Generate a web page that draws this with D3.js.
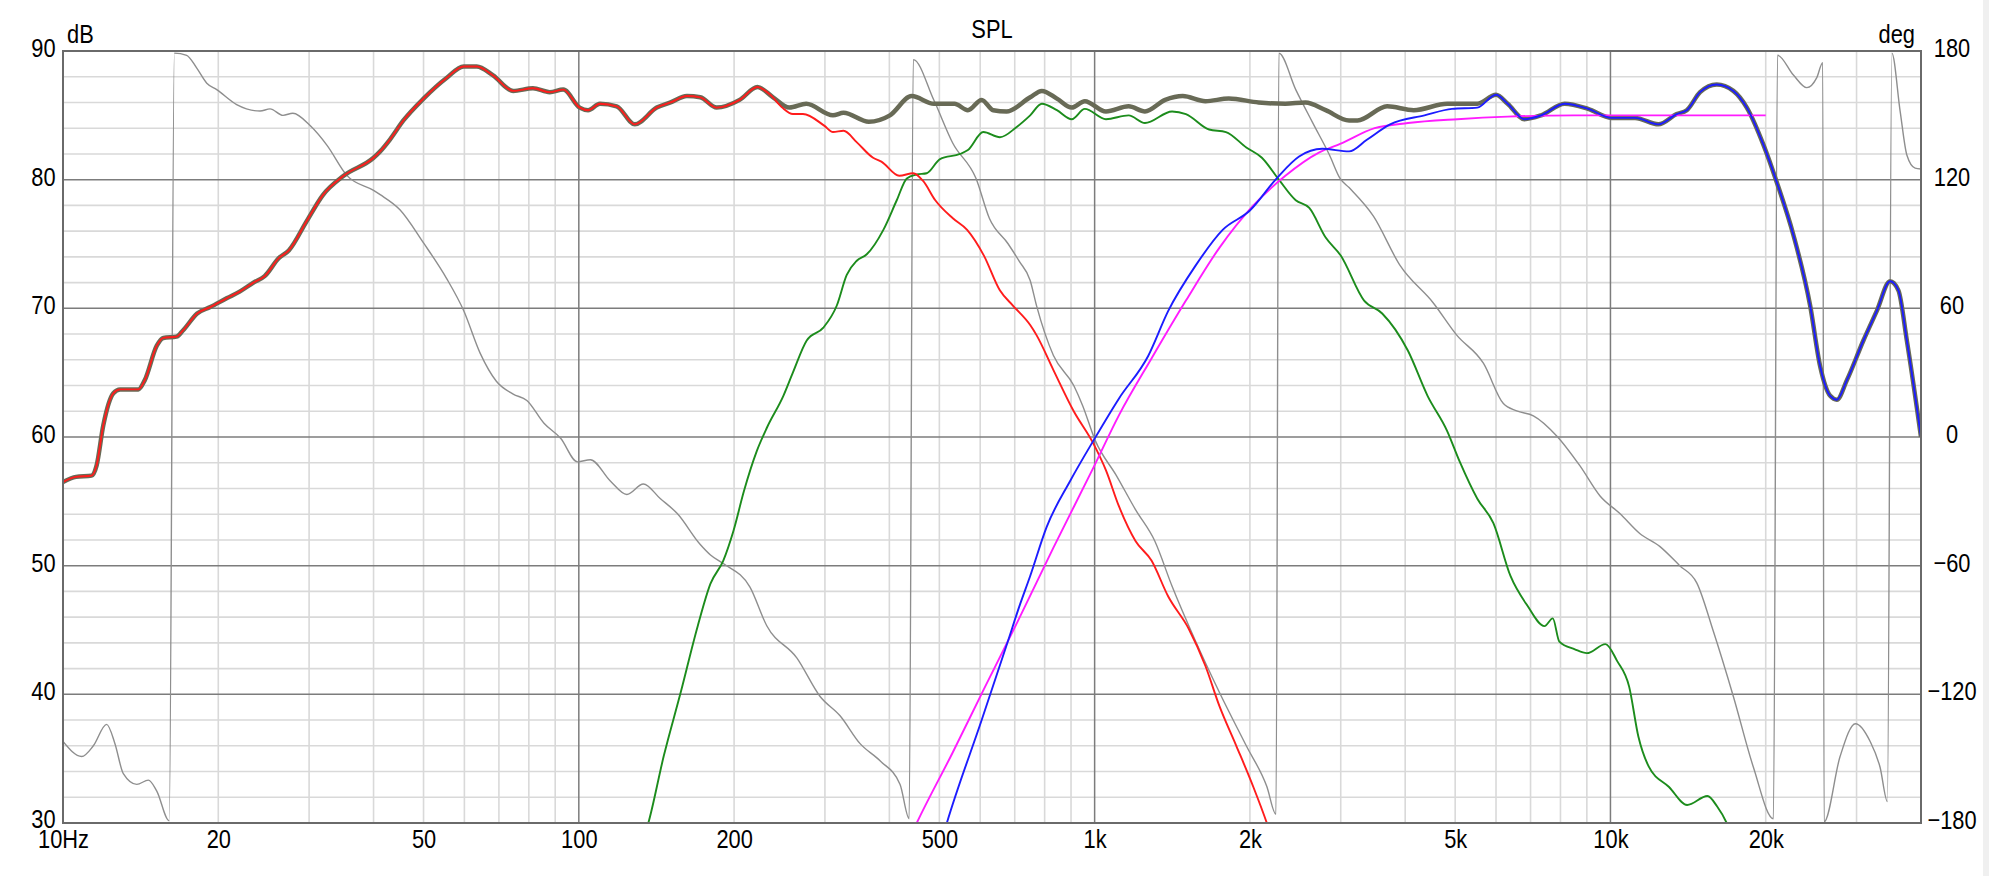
<!DOCTYPE html>
<html>
<head>
<meta charset="utf-8">
<script src="https://cdn.jsdelivr.net/npm/d3@7/dist/d3.min.js"></script>
<style>
body { margin: 0; background: #fff; }
svg text { font-family: "Liberation Sans", Arial, sans-serif; font-size: 26px; fill: #000; }
</style>
</head>
<body>
<script>
// axis ticks
var xTickValues = [10, 20, 50, 100, 200, 500, 1000, 2000, 5000, 10000, 20000];
var xTickLabels = ["10Hz", "20", "50", "100", "200", "500", "1k", "2k", "5k", "10k", "20k"];
var dbTicks = [30, 40, 50, 60, 70, 80, 90];
var degTicks = [-180, -120, -60, 0, 60, 120, 180];

// [Hz, dB]
var sumSpl = [
    [10, 56.5], [10.6, 56.9], [11.36, 57.0], [11.62, 57.8], [11.97, 60.9], [12.52, 63.4], [12.9, 63.7],
    [14.0, 63.7], [14.4, 64.4], [15.2, 67.1], [15.65, 67.7], [16.6, 67.8], [17.1, 68.3], [18.2, 69.6],
    [19.3, 70.1], [20.8, 70.8], [22.0, 71.3], [23.4, 72.0], [24.6, 72.5], [26.2, 73.9], [27.4, 74.5],
    [29.7, 76.8], [31.9, 78.8], [35.0, 80.3], [40.0, 81.7], [41.2, 82.2], [43.0, 83.1], [45.7, 84.6],
    [50.0, 86.3], [55.4, 87.9], [59.8, 88.8], [63.4, 88.8], [68.2, 88.1], [74.6, 86.9], [81.5, 87.1],
    [87.8, 86.8], [93.3, 87.0], [100.4, 85.6], [104.2, 85.4], [109.9, 85.9], [118.4, 85.7], [128.4, 84.3],
    [141.6, 85.6], [150.6, 86.0], [162, 86.5], [172, 86.4], [185, 85.6], [205, 86.2], [222, 87.2],
    [238, 86.4], [256, 85.6], [276, 85.9], [311, 85.0], [326, 85.2], [365, 84.5], [401, 85.0], [442, 86.5],
    [488, 85.9], [535, 85.9], [568, 85.4], [604, 86.2], [636, 85.4], [675, 85.3], [750, 86.4], [790, 86.9],
    [845, 86.3], [903, 85.6], [957, 86.1], [1052, 85.3], [1164, 85.7], [1252, 85.3], [1370, 86.2],
    [1482, 86.5], [1640, 86.1], [1820, 86.3], [2079, 86.0], [2343, 85.9], [2563, 86.0], [2805, 85.4],
    [3114, 84.6], [3233, 84.6], [3690, 85.7], [4157, 85.4], [4825, 85.9], [5520, 85.9], [6000, 86.6],
    [6320, 85.9], [6810, 84.7], [7340, 85.0], [8150, 85.9], [9050, 85.5], [10050, 84.8], [11160, 84.8],
    [12390, 84.3], [13440, 85.1], [14060, 85.4], [14920, 86.8], [16070, 87.4], [17310, 86.9], [18380, 85.6],
    [19800, 82.7], [21010, 79.8], [22630, 75.7], [24390, 70.2], [25500, 65.5], [26670, 63.2], [27480, 62.9],
    [28720, 64.4], [30930, 67.5], [32840, 69.8], [34840, 72.1], [36160, 71.4], [37550, 67.5], [39710, 60.9],
    [40000, 60.0]
];

var wooferSpl = [
    [10, 56.5], [10.6, 56.9], [11.36, 57.0], [11.62, 57.8], [11.97, 60.9], [12.52, 63.4], [12.9, 63.7],
    [14.0, 63.7], [14.4, 64.4], [15.2, 67.1], [15.65, 67.7], [16.6, 67.8], [17.1, 68.3], [18.2, 69.6],
    [19.3, 70.1], [20.8, 70.8], [22.0, 71.3], [23.4, 72.0], [24.6, 72.5], [26.2, 73.9], [27.4, 74.5],
    [29.7, 76.8], [31.9, 78.8], [35.0, 80.3], [40.0, 81.7], [41.2, 82.2], [43.0, 83.1], [45.7, 84.6],
    [50.0, 86.3], [55.4, 87.9], [59.8, 88.8], [63.4, 88.8], [68.2, 88.1], [74.6, 86.9], [81.5, 87.1],
    [87.8, 86.8], [93.3, 87.0], [100.4, 85.6], [104.2, 85.4], [109.9, 85.9], [118.4, 85.7], [128.4, 84.3],
    [141.6, 85.6], [150.6, 86.0], [162, 86.5], [172, 86.4], [185, 85.6], [205, 86.2], [222, 87.2],
    [235, 86.6], [248, 85.6], [260, 85.1], [272, 85.1], [299, 84.2], [311, 83.7], [326, 83.8], [346, 82.9],
    [372, 81.7], [386, 81.4], [418, 80.3], [445, 80.5], [465, 79.9], [491, 78.4], [531, 77.0], [566, 76.1],
    [610, 74.1], [655, 71.4], [695, 70.2], [750, 68.7], [772, 67.9], [832, 65.2], [911, 62.0], [994, 59.5],
    [1052, 57.4], [1115, 54.6], [1201, 51.9], [1289, 50.4], [1389, 47.6], [1522, 45.1], [1640, 42.2],
    [1745, 39.1], [1882, 36.0], [2031, 32.8], [2157, 30.0], [2300, 26.5]
];

var midSpl = [
    [130, 27.5], [136.4, 30.0], [146.1, 35.2], [157.7, 40.2], [170, 45.3], [180, 48.6], [190.6, 50.4],
    [199.4, 52.7], [209, 55.8], [221.3, 58.9], [231.4, 60.7], [249.2, 63.2], [260, 65.0], [276.6, 67.5],
    [297.9, 68.5], [316.2, 70.2], [330.7, 72.6], [345.8, 73.7], [361.6, 74.2], [389.4, 76.1], [413.4, 78.4],
    [432.4, 80.1], [452, 80.4], [472.6, 80.5], [501.5, 81.6], [548.4, 82.0], [568, 82.3], [608.4, 83.7],
    [655.3, 83.3], [706.3, 84.1], [750, 85.0], [790, 85.9], [845, 85.4], [903, 84.7], [957, 85.5],
    [1052, 84.7], [1164, 85.0], [1252, 84.4], [1413, 85.3], [1503, 85.1], [1667, 83.9], [1797, 83.7],
    [1968, 82.5], [2110, 81.7], [2276, 80.0], [2454, 78.4], [2607, 77.8], [2805, 75.5], [3000, 74.1],
    [3330, 70.6], [3610, 69.6], [4050, 66.7], [4420, 63.2], [4820, 60.5], [5100, 58.1], [5520, 55.2],
    [5930, 53.3], [6400, 49.2], [6900, 46.9], [7450, 45.3], [7730, 45.9], [7960, 44.1], [8530, 43.5],
    [9000, 43.2], [9780, 43.9], [10300, 42.6], [10870, 40.6], [11330, 36.7], [11860, 34.4], [12990, 32.8],
    [14080, 31.4], [15420, 32.1], [16090, 31.3], [16800, 30.0], [17500, 28.0]
];

var tweeterSpl = [
    [500, 28.0], [517, 30.0], [604, 38.0], [680, 44.2], [714, 46.8], [750, 49.2], [807, 53.0], [897, 56.6],
    [994, 59.7], [1115, 63.0], [1270, 66.3], [1389, 69.8], [1568, 73.3], [1771, 76.1], [2000, 77.6],
    [2254, 80.1], [2491, 81.8], [2762, 82.4], [3114, 82.2], [3371, 83.1], [3740, 84.3], [4360, 85.0],
    [4930, 85.5], [5520, 85.6], [6000, 86.6],
    [6320, 85.9], [6810, 84.7], [7340, 85.0], [8150, 85.9], [9050, 85.5], [10050, 84.8], [11160, 84.8],
    [12390, 84.3], [13440, 85.1], [14060, 85.4], [14920, 86.8], [16070, 87.4], [17310, 86.9], [18380, 85.6],
    [19800, 82.7], [21010, 79.8], [22630, 75.7], [24390, 70.2], [25500, 65.5], [26670, 63.2], [27480, 62.9],
    [28720, 64.4], [30930, 67.5], [32840, 69.8], [34840, 72.1], [36160, 71.4], [37550, 67.5], [39710, 60.9],
    [40000, 60.0]
];

var targetSpl = [
    [440, 29.0], [452, 30.0], [531, 35.5], [610, 40.4], [714, 45.9], [832, 51.4], [994, 57.6],
    [1115, 61.7], [1289, 66.1], [1503, 70.6], [1745, 74.7], [2031, 78.0], [2343, 80.3], [2721, 82.1],
    [3000, 82.8], [3490, 84.0], [4050, 84.4], [5050, 84.7], [6320, 84.9], [8500, 85.0], [20000, 85.0]
];

// [Hz, deg] phase of the sum, wrapped
var sumPhase = [
    [10.0, -142], [10.87, -149], [11.45, -144], [12.15, -134], [12.61, -143], [13.09, -157], [13.9, -162],
    [14.64, -160], [15.19, -165], [16.07, -179], [16.44, 179], [17.37, 178], [18.17, 172], [19.0, 165],
    [19.86, 162], [21.71, 155], [24.1, 152], [25.2, 153], [26.7, 150], [27.9, 151], [30.2, 145], [32.5, 136],
    [35.5, 122], [40.0, 115], [41.2, 113], [45.0, 106], [50.0, 90.5], [55.4, 74], [59.8, 59], [64.4, 39],
    [69.2, 26], [74.6, 20], [79.3, 17], [85.6, 6.4], [92.2, -0.6], [99.4, -11.6], [105.3, -10.6],
    [115.1, -20.5], [123.9, -26.8], [133.4, -21.9], [143.8, -28.7], [155.2, -35.7], [171.8, -50], [180, -55],
    [190.6, -59], [214.7, -70], [231.4, -88], [264.6, -103], [293.6, -121], [321, -130], [351, -143],
    [383.7, -151], [419.6, -162], [437, -178], [445, 176], [488, 157], [531, 137], [589, 120.5], [625, 102],
    [680, 90], [714, 82], [750, 73], [772, 61], [832, 38], [911, 24], [948, 14.6], [1003, -1.7],
    [1102, -18], [1201, -34], [1308, -48.5], [1413, -69.6], [1568, -95], [1745, -119], [1968, -144],
    [2157, -163], [2247, -176], [2276, 179], [2454, 162], [2646, 146.6], [2853, 131.5], [2991, 120.6],
    [3114, 116.3], [3471, 103], [3909, 80], [4535, 62.5], [5035, 47.5], [5671, 34.4], [6200, 15.6],
    [6581, 12.2], [7089, 9.9], [7868, 0.5], [8730, -13.5], [9546, -27.5], [10430, -35.7], [11397, -45],
    [12460, -51], [13624, -60], [14700, -68], [15830, -90.6], [17310, -121], [18930, -154], [20700, -178],
    [21080, 178], [22630, 168.8], [24030, 162.9], [25120, 167.6], [25800, 174.6], [25950, -179.5],
    [27870, -149], [29850, -133.7], [31880, -142], [33320, -154], [34430, -170], [35120, 179], [36440, 152],
    [37550, 131.5], [38960, 125.4], [40000, 125]
];

var width = 1989, height = 876;
var margin = {top: 51, right: 68, bottom: 53, left: 63};

var svg = d3.select("body").append("svg").attr("width", width).attr("height", height);
svg.append("rect").attr("width", width).attr("height", height).attr("fill", "#fff");
svg.append("rect").attr("x", 1983).attr("y", 0).attr("width", 6).attr("height", height).attr("fill", "#f0f0f0");

var x = d3.scaleLog().domain([10, 40000]).range([margin.left, width - margin.right]);
var y = d3.scaleLinear().domain([30, 90]).range([height - margin.bottom, margin.top]);
var yDeg = d3.scaleLinear().domain([-180, 180]).range([height - margin.bottom, margin.top]);

var x0 = x.range()[0], x1 = x.range()[1], y0 = y.range()[1], y1 = y.range()[0];

//Grid
var minorF = [], majorF = [100, 1000, 10000];
[10, 100, 1000, 10000].forEach(function(d) {
    for (var k = 2; k <= 9; k++) if (d * k < 40000) minorF.push(d * k);
});
var grid = svg.append("g");
grid.selectAll(".hminor").data(d3.range(32, 90, 2).filter(function(v) { return v % 10; }))
    .enter().append("line")
    .attr("x1", x0).attr("x2", x1)
    .attr("y1", function(d) { return y(d); }).attr("y2", function(d) { return y(d); })
    .attr("stroke", "#d9d9d9").attr("stroke-width", 1.6);
grid.selectAll(".vminor").data(minorF).enter().append("line")
    .attr("x1", function(d) { return x(d); }).attr("x2", function(d) { return x(d); })
    .attr("y1", y0).attr("y2", y1)
    .attr("stroke", "#d9d9d9").attr("stroke-width", 1.6);
grid.selectAll(".hmajor").data(dbTicks.slice(1, -1)).enter().append("line")
    .attr("x1", x0).attr("x2", x1)
    .attr("y1", function(d) { return y(d); }).attr("y2", function(d) { return y(d); })
    .attr("stroke", "#7c7c7c").attr("stroke-width", 1.5);
grid.selectAll(".vmajor").data(majorF).enter().append("line")
    .attr("x1", function(d) { return x(d); }).attr("x2", function(d) { return x(d); })
    .attr("y1", y0).attr("y2", y1)
    .attr("stroke", "#7c7c7c").attr("stroke-width", 1.5);

//Curves
svg.append("clipPath").attr("id", "plot-clip").append("rect")
    .attr("x", x0).attr("y", y0).attr("width", x1 - x0).attr("height", y1 - y0);
var plot = svg.append("g").attr("clip-path", "url(#plot-clip)");

var splLine = d3.line()
    .x(function(d) { return x(d[0]); })
    .y(function(d) { return y(d[1]); })
    .curve(d3.curveMonotoneX);
var phaseLine = d3.line()
    .x(function(d) { return x(d[0]); })
    .y(function(d) { return yDeg(d[1]); })
    .curve(d3.curveMonotoneX);

plot.append("path").attr("d", phaseLine(sumPhase))
    .attr("fill", "none").attr("stroke", "#8e8e8e").attr("stroke-width", 1.4);
plot.append("path").attr("d", splLine(sumSpl))
    .attr("fill", "none").attr("stroke", "#686a56").attr("stroke-width", 4.5)
    .attr("stroke-linejoin", "round");

var drivers = [
    {data: midSpl, colour: "#1c8c1c"},
    {data: wooferSpl, colour: "#ff1c1c"},
    {data: targetSpl, colour: "#ff1cff"},
    {data: tweeterSpl, colour: "#1c1cff"}
];
drivers.forEach(function(s) {
    plot.append("path").attr("d", splLine(s.data))
        .attr("fill", "none").attr("stroke", s.colour).attr("stroke-width", 1.9)
        .attr("stroke-linejoin", "round");
});

// frame
svg.append("rect").attr("x", x0).attr("y", y0).attr("width", x1 - x0).attr("height", y1 - y0)
    .attr("fill", "none").attr("stroke", "#6a6a6a").attr("stroke-width", 2);

//Axis labels
var squeeze = " scale(0.84,1)";
var xAxis = svg.append("g").attr("transform", "translate(0," + y1 + ")")
    .call(d3.axisBottom(x).tickValues(xTickValues).tickSize(0)
        .tickFormat(function(d, i) { return xTickLabels[i]; }));
var yAxis = svg.append("g").attr("transform", "translate(" + x0 + ",0)")
    .call(d3.axisLeft(y).tickValues(dbTicks).tickSize(0));
var degAxis = svg.append("g").attr("transform", "translate(" + x1 + ",0)")
    .call(d3.axisRight(yDeg).tickValues(degTicks).tickSize(0));

[xAxis, yAxis, degAxis].forEach(function(a) {
    a.select(".domain").remove();
    a.attr("font-family", null).attr("font-size", null);
    a.selectAll("text").attr("x", null).attr("y", null).attr("dy", null)
        .attr("text-anchor", "middle").attr("fill", "#000");
});
xAxis.selectAll("text").attr("transform", "translate(0,24.5)" + squeeze);
yAxis.selectAll("text").attr("transform", function(d) {
    return "translate(-19.5," + (d === 30 ? 4.5 : 5.5) + ")" + squeeze;
});
degAxis.selectAll("text").attr("transform", "translate(31,5.5)" + squeeze);

svg.append("text").attr("transform", "translate(67,43)" + squeeze).text("dB");
svg.append("text").attr("transform", "translate(1915,43)" + squeeze)
    .attr("text-anchor", "end").text("deg");
svg.append("text").attr("transform", "translate(" + ((x0 + x1) / 2) + ",38)" + squeeze)
    .attr("text-anchor", "middle").text("SPL");
</script>
</body>
</html>
